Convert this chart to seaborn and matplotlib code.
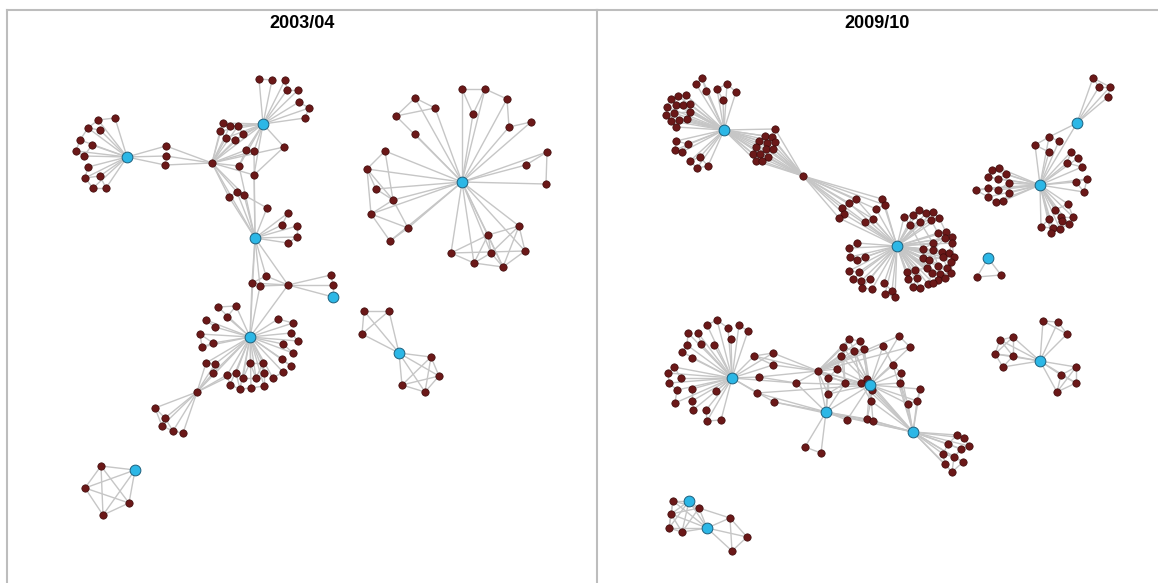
import matplotlib
matplotlib.use("Agg")
import matplotlib.pyplot as plt
import seaborn as sns
import pandas as pd
from matplotlib.collections import LineCollection

sns.set_theme(style="white")
plt.rcParams['font.family'] = ['Liberation Sans', 'DejaVu Sans']

titles = ["2003/04", "2009/10"]

# ===================== 2003/04 =====================
A_hub = (127, 157)
A_leaf = [(115,118),(98,120),(88,128),(100,130),(80,140),(92,145),(76,151),(84,156),
          (88,167),(85,178),(100,176),(93,188),(106,188)]
A_extra = [(0,1),(1,2),(2,4),(3,2),(4,6),(5,7),(6,7),(8,9),(9,11),(11,12),(10,12),(10,9)]
Bridge = [(166,146),(166,156),(165,165)]
C_node = (212,163)
B_hub = (263,124)
B_leaf = [(259,79),(272,80),(285,80),(287,90),(298,90),(299,102),(309,108),(305,118)]
B_extra = [(0,1),(2,3),(3,4),(5,6),(6,7)]
Mid = [(223,123),(230,126),(238,126),(220,131),(243,134),(226,138),(235,140),(246,150),
       (254,151),(239,166),(254,175),(284,147),(229,197),(237,192),(244,195),(267,208)]
Mid_extra = [(0,1),(1,2),(3,5),(5,6),(7,8),(12,13),(13,14),(2,4),(7,9)]
D_hub = (255,238)
D_leaf = [(288,213),(282,225),(297,226),(297,237),(288,243)]
D_extra = [(0,1),(2,3),(3,4)]
Lk = [(266,276),(252,283),(260,286),(288,285),(331,275),(333,285)]
F_hub = (333,297)
G_hub = (250,337)
G_leaf = [(218,307),(236,306),(227,317),(206,320),(215,327),(200,334),(213,343),(202,347),
          (278,319),(293,323),(291,333),(298,341),(283,344),(293,353),(282,359),(291,366),
          (283,372),(273,378),(206,363),(215,364),(213,373),(250,363),(263,363),(227,375),
          (236,373),(243,378),(256,378),(264,373),(230,385),(240,389),(251,388),(264,386)]
G_extra = [(0,1),(1,2),(3,4),(5,6),(6,7),(5,7),(8,9),(10,11),(12,13),(14,15),(16,17),
           (18,19),(19,20),(21,22),(23,24),(24,25),(25,26),(26,27),(28,29),(29,30),(30,31),
           (23,28),(22,27),(21,25),(24,29),(27,31),(21,26),(22,26)]
Y_node = (197,392)
Y_leaf = [(155,408),(165,418),(162,426),(173,431),(183,433)]
Y_extra = [(0,1),(1,2),(2,3),(3,4),(1,3),(0,2)]
H_hub = (399,353)
H_leaf = [(364,311),(389,311),(362,334),(431,357),(439,376),(402,385),(425,392)]
H_extra = [(0,1),(0,2),(2,1),(3,4),(4,6),(6,5),(3,5),(3,6),(4,5)]
E_hub = (462,182)
E_leaf = [(462,89),(485,89),(507,99),(473,114),(509,127),(531,122),(415,98),(435,108),
          (396,116),(415,134),(385,151),(367,169),(376,189),(393,200),(371,214),(408,228),
          (390,241),(547,152),(526,165),(546,184),(519,226),(488,235),(451,253),(491,253),
          (525,251),(474,263),(503,267)]
E_extra = [(0,1),(0,3),(1,2),(1,3),(2,4),(4,5),(6,7),(6,8),(8,7),(10,11),(10,13),(11,12),
           (11,14),(11,13),(12,13),(14,13),(14,15),(13,15),(14,16),(16,15),(17,18),(17,19),
           (20,21),(20,24),(20,26),(20,23),(21,22),(21,25),(21,23),(22,24),(22,25),(23,25),
           (23,26),(24,26),(25,26),(21,26)]
I_hub = (135,470)
I_leaf = [(101,466),(85,488),(129,503),(103,515)]
I_extra = [(0,1),(0,2),(0,3),(1,2),(1,3),(2,3)]

# ===================== 2009/10 =====================
J_hub = (724,130)
J_top = [(702,78),(696,84),(706,91),(727,84),(717,89),(736,92),(723,100)]
J_top_extra = [(0,1),(0,2),(3,4),(3,5),(4,6)]
J_left = [(678,96),(686,95),(671,99),(676,105),(683,105),(690,104),(667,107),(674,113),
          (690,112),(666,115),(671,121),(679,120),(687,119),(676,127)]
J_left_extra = [(0,1),(2,3),(3,4),(4,5),(6,7),(7,8),(9,10),(10,11),(11,12),(12,13),(0,2),(6,9),
                (1,4),(3,7),(7,11),(4,8),(8,12),(2,6),(9,13)]
J_low = [(676,141),(688,144),(675,150),(682,152)]
J_bot = [(690,161),(700,157),(697,168),(708,166)]
Sq_extra = [(0,1),(0,2),(2,3),(1,3)]
J_right = [(775,129),(765,136),(772,137),(759,141),(767,143),(775,142),(756,147),(766,149),
           (773,149),(753,154),(760,154),(768,157),(756,161),(762,161)]
J_right_extra = [(1,2),(3,4),(4,5),(6,7),(7,8),(9,10),(10,11),(12,13),(1,3),(4,7),(7,11)]
K_node = (803,176)
L_hub = (897,246)
L_ul = [(842,208),(849,203),(856,199),(844,214),(839,218),(882,199),(885,205),(876,209),
        (873,219),(865,222)]
L_ul_extra = [(0,1),(1,2),(3,4),(5,6),(6,7),(8,9),(0,3)]
L_right = [(904,217),(913,215),(919,210),(926,213),(933,212),(910,225),(920,222),(931,220),
           (939,218),(938,233),(946,232),(952,237),(945,238),(933,243),(952,243),(923,249),
           (933,250),(942,252),(949,253),(954,257),(923,258),(929,260),(943,257),(951,262),
           (938,266),(947,268),(927,268),(932,273),(940,274),(951,273),(915,270),(907,272),
           (917,278),(908,279),(938,280),(945,278),(913,287),(920,288),(928,284),(933,283)]
L_right_extra = [(0,1),(1,2),(2,3),(3,4),(5,6),(6,7),(7,8),(9,10),(10,11),(11,12),(12,13),
                 (13,15),(14,18),(15,16),(16,17),(17,18),(18,19),(20,21),(21,22),(22,23),
                 (24,25),(26,27),(27,28),(28,29),(30,31),(31,33),(32,33),(34,35),(36,37),
                 (37,38),(38,39),(4,8),(9,14),(19,23),(25,29),(35,39),(13,22),(16,24),
                 (0,5),(1,6),(3,7),(7,9),(8,10),(9,12),(12,16),(14,19),(15,20),(16,21),
                 (17,22),(20,26),(21,27),(22,25),(23,29),(24,28),(26,30),(27,38),(28,34),
                 (30,32),(32,36),(33,36),(34,39),(35,29),(11,14),(2,7),(5,15),(6,13)]
L_left = [(849,248),(857,243),(850,257),(857,260),(865,257),(849,271),(859,272),(853,279),
          (861,281),(870,279),(862,288),(872,289),(884,283),(892,291),(885,294),(895,297)]
L_left_extra = [(0,1),(2,3),(3,4),(5,6),(7,8),(8,9),(10,11),(12,13),(13,14),(14,15)]
M_hub = (988,258)
M_leaf = [(977,277),(1001,275)]
O_hub = (1077,123)
O_leaf = [(1093,78),(1099,87),(1110,87),(1108,97)]
O_extra = [(0,1),(1,2),(2,3),(0,2)]
N_hub = (1040,185)
N_ur = [(1049,137),(1035,145),(1059,141),(1049,152),(1071,152),(1078,158),(1067,163),
        (1082,167),(1087,179),(1076,182),(1084,192)]
N_ur_extra = [(0,1),(0,2),(1,3),(4,5),(4,6),(5,7),(6,7),(8,9),(8,10),(9,10)]
N_left = [(992,170),(999,168),(988,177),(998,179),(1006,174),(976,190),(988,188),(998,190),
          (1009,183),(988,197),(1009,193),(996,202),(1003,201)]
N_left_extra = [(0,1),(2,3),(3,4),(5,6),(6,7),(7,8),(9,11),(11,12),(10,12),(5,9),(0,2)]
N_bot = [(1055,210),(1068,204),(1061,217),(1073,217),(1049,219),(1041,227),(1053,228),
         (1062,221),(1069,224),(1051,233),(1060,229)]
N_bot_extra = [(0,1),(0,2),(1,3),(2,3),(4,5),(4,6),(5,6),(6,9),(9,10),(10,8),(7,8),(2,7),(6,10)]
P_hub = (732,378)
P_leaf = [(717,320),(707,325),(728,328),(739,325),(748,331),(688,333),(698,333),(731,339),
          (687,345),(701,344),(714,345),(682,352),(692,358),(674,367),(668,373),(681,378),
          (669,383),(677,390),(675,403),(692,389),(692,401),(716,391),(693,410),(706,410),
          (707,421),(721,420)]
P_extra = [(0,1),(0,2),(3,4),(5,8),(6,9),(8,11),(13,14),(14,16),(16,17),(17,18),(19,20),
           (23,24),(24,25),(15,13)]
P_mid = [(754,356),(773,353),(773,365),(759,377),(757,393),(774,402),(796,383)]
X_node = (818,371)
Q_hub = (826,412)
R_hub = (870,385)
S_hub = (913,432)
R_nodes = [(849,339),(860,341),(843,347),(854,351),(864,349),(883,346),(899,336),(910,347),
           (841,356),(837,369),(845,383),(828,378),(828,394),(861,383),(867,379),(872,390),
           (871,401),(893,365),(901,373),(900,383),(920,389),(917,401),(908,404),(867,419),
           (873,421),(847,420)]
R_extra = [(0,1),(2,3),(3,4),(0,2),(1,4),(6,7),(17,18),(18,19),(20,21),(21,22),(23,24),
           (8,9),(9,11),(11,12),(13,14),(15,16),(0,8),(2,10),(3,13),(4,14),(8,10),(10,12),
           (16,23),(19,22),(5,17),(13,16)]
Q_leaf = [(805,447),(821,453)]
S_leaf = [(957,435),(964,438),(948,444),(961,449),(969,446),(943,454),(954,457),(963,462),
          (945,464),(952,472)]
S_extra = [(0,1),(0,2),(1,4),(2,3),(3,4),(2,5),(5,6),(6,7),(5,8),(8,9),(6,9),(3,6),(7,9)]
T_hub = (1040,361)
T_leaf = [(1043,321),(1058,322),(1067,334),(1000,340),(1013,337),(995,354),(1013,356),
          (1003,367),(1076,367),(1061,375),(1076,383),(1057,392)]
T_extra = [(0,1),(1,2),(0,2),(3,4),(3,5),(4,6),(5,6),(3,6),(4,5),(5,7),(6,7),(8,9),(8,10),
           (9,10),(9,11),(10,11),(8,11)]
U_hub = (689,501)
V_hub = (707,528)
UV_leaf = [(673,501),(671,514),(699,508),(669,528),(682,532),(730,518),(747,537),(732,551)]
UV_extra = [(0,1),(1,3),(3,4),(0,2),(1,2),(2,5),(5,6),(6,7),(5,7),(0,3),(1,4),(2,4)]


def star(hub, leaves):
    return [(hub, p) for p in leaves]


def pairs(pts, idx):
    return [(pts[i], pts[j]) for i, j in idx]


left_blue = [A_hub, B_hub, D_hub, F_hub, G_hub, H_hub, E_hub, I_hub]
left_brown = (A_leaf + Bridge + [C_node] + B_leaf + Mid + D_leaf + Lk + G_leaf +
              [Y_node] + Y_leaf + H_leaf + E_leaf + I_leaf)
left_edges = (star(A_hub, A_leaf) + pairs(A_leaf, A_extra) + star(A_hub, Bridge) +
              star(C_node, Bridge) + star(B_hub, B_leaf) + pairs(B_leaf, B_extra) +
              star(C_node, Mid[:15]) + [(C_node, B_hub), (C_node, D_hub)] +
              star(B_hub, Mid[:12]) + pairs(Mid, Mid_extra) +
              [(Mid[11], Mid[10]), (Mid[10], D_hub), (Mid[9], D_hub), (Mid[8], D_hub),
               (Mid[12], D_hub), (Mid[13], D_hub), (Mid[14], D_hub), (Mid[15], D_hub),
               (Mid[15], Mid[14])] +
              star(D_hub, D_leaf) + pairs(D_leaf, D_extra) + star(D_hub, Lk[:4]) +
              [(D_hub, G_hub)] + star(Lk[3], [Lk[0], Lk[1], Lk[2], Lk[4], Lk[5], F_hub, G_hub]) +
              [(Lk[4], Lk[5]), (Lk[5], F_hub), (Lk[1], G_hub), (Lk[2], G_hub), (Lk[0], Lk[1])] +
              star(G_hub, G_leaf) + pairs(G_leaf, G_extra) +
              star(Y_node, Y_leaf) + pairs(Y_leaf, Y_extra) +
              star(Y_node, [G_hub, G_leaf[18], G_leaf[19], G_leaf[20], G_leaf[23], G_leaf[24]]) +
              star(H_hub, H_leaf) + pairs(H_leaf, H_extra) +
              star(E_hub, E_leaf) + pairs(E_leaf, E_extra) +
              star(I_hub, I_leaf) + pairs(I_leaf, I_extra))

right_blue = [J_hub, L_hub, M_hub, O_hub, N_hub, P_hub, Q_hub, R_hub, S_hub, T_hub, U_hub, V_hub]
right_brown = (J_top + J_left + J_low + J_bot + J_right + [K_node] + L_ul + L_right + L_left +
               M_leaf + O_leaf + N_ur + N_left + N_bot + P_leaf + P_mid + [X_node] + R_nodes +
               Q_leaf + S_leaf + T_leaf + UV_leaf)
right_edges = (star(J_hub, J_top) + pairs(J_top, J_top_extra) + star(J_hub, J_left) +
               pairs(J_left, J_left_extra) + star(J_hub, J_low) + pairs(J_low, Sq_extra) +
               star(J_hub, J_bot) + pairs(J_bot, Sq_extra) + star(J_hub, J_right) +
               pairs(J_right, J_right_extra) +
               star(K_node, J_right) + star(K_node, L_ul) + star(L_hub, L_ul) +
               pairs(L_ul, L_ul_extra) + star(L_hub, L_right) + pairs(L_right, L_right_extra) +
               star(L_hub, L_left) + pairs(L_left, L_left_extra) +
               star(M_hub, M_leaf) + pairs(M_leaf, [(0, 1)]) +
               star(O_hub, O_leaf) + pairs(O_leaf, O_extra) + [(O_hub, N_hub), (O_hub, N_ur[0])] +
               star(N_hub, N_ur) + pairs(N_ur, N_ur_extra) + star(N_hub, N_left) +
               pairs(N_left, N_left_extra) + star(N_hub, N_bot) + pairs(N_bot, N_bot_extra) +
               star(P_hub, P_leaf) + pairs(P_leaf, P_extra) + star(P_hub, P_mid) +
               [(P_mid[0], P_mid[1]), (P_mid[0], P_mid[2]), (P_mid[0], X_node),
                (P_mid[1], X_node), (P_mid[2], X_node), (P_mid[3], P_mid[6]),
                (P_mid[4], Q_hub), (P_mid[5], Q_hub), (P_mid[5], S_hub), (P_mid[6], X_node),
                (P_mid[6], Q_hub), (P_mid[6], R_hub), (P_mid[3], X_node), (P_mid[4], R_hub)] +
               star(X_node, R_nodes[:14]) + [(X_node, R_hub), (X_node, Q_hub)] +
               star(R_hub, R_nodes) + pairs(R_nodes, R_extra) +
               star(S_hub, R_nodes[13:25]) + star(S_hub, S_leaf) + pairs(S_leaf, S_extra) +
               [(S_hub, Q_hub), (S_hub, R_hub)] +
               star(Q_hub, Q_leaf) + pairs(Q_leaf, [(0, 1)]) +
               star(Q_hub, [R_nodes[10], R_nodes[11], R_nodes[12], R_nodes[23], R_nodes[24],
                            R_nodes[25], R_hub]) +
               star(T_hub, T_leaf) + pairs(T_leaf, T_extra) +
               [(U_hub, V_hub)] + star(U_hub, UV_leaf[:5]) + star(V_hub, UV_leaf) +
               pairs(UV_leaf, UV_extra))

W, H = 1158, 583
fig = plt.figure(figsize=(W / 100, H / 100), dpi=100)
fig.patch.set_facecolor("white")

panels = [
    (7, 597, titles[0], left_edges, left_brown, left_blue),
    (597, 1162, titles[1], right_edges, right_brown, right_blue),
]
top, bottom = 10, 590

for x0, x1, title, edges, brown, blue in panels:
    ax = fig.add_axes([x0 / W, (H - bottom) / H, (x1 - x0) / W, (bottom - top) / H])
    ax.set_xlim(x0, x1)
    ax.set_ylim(bottom, top)
    ax.set_xticks([])
    ax.set_yticks([])
    ax.set_facecolor("white")
    for side, sp in ax.spines.items():
        sp.set_color("#bdbdbd")
        sp.set_linewidth(1.5)
        sp.set_visible(side in ("top", "left"))
    lc = LineCollection(edges, colors="#c6c6c6", linewidths=1.0, zorder=1)
    ax.add_collection(lc)
    dfb = pd.DataFrame(brown, columns=["x", "y"])
    sns.scatterplot(data=dfb, x="x", y="y", ax=ax, s=28, color="#6b1818",
                    edgecolor="#3d0a0a", linewidth=0.5, zorder=3, legend=False)
    dfh = pd.DataFrame(blue, columns=["x", "y"])
    sns.scatterplot(data=dfh, x="x", y="y", ax=ax, s=60, color="#2cb7e6",
                    edgecolor="#1d5f7c", linewidth=0.7, zorder=4, legend=False)
    ax.set_xlabel("")
    ax.set_ylabel("")
    ax.text((x0 + min(x1, W)) / 2, 24, title, ha="center", va="center",
            fontsize=13, fontweight="bold", color="black")

fig.savefig("out.png", dpi=100)
